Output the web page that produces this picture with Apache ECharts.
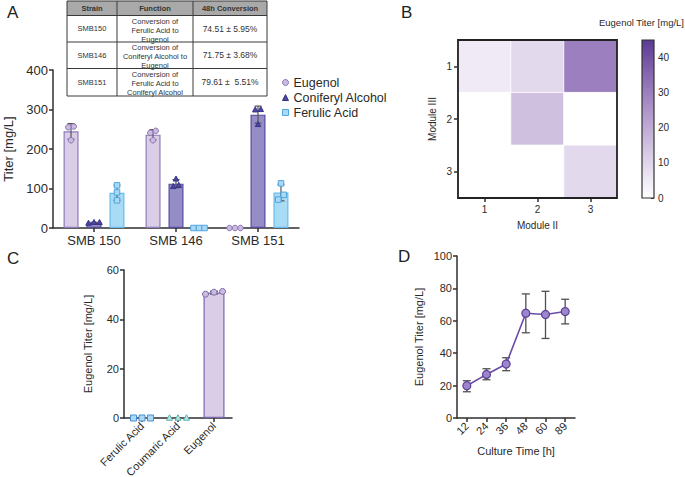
<!DOCTYPE html>
<html><head><meta charset="utf-8">
<script src="https://cdn.jsdelivr.net/npm/echarts@6/dist/echarts.min.js"></script>
<style>html,body{margin:0;padding:0;background:#fff}#c{width:685px;height:477px}</style>
</head><body><div id="c"></div>
<script>
// ---------- DATA ----------
// Panel A
const strainsA = ['SMB 150', 'SMB 146', 'SMB 151'];
const eugenolA = [[257, 255, 222], [246, 241, 222], [0, 0, 0]];
const coniferylA = [[12, 14, 14], [105, 108, 124], [300, 299, 262]];
const ferulicA = [[108, 90, 70], [0, 0, 0], [113, 84, 72]];
const legendA = ['Eugenol', 'Coniferyl Alcohol', 'Ferulic Acid'];
// Table in panel A
const tableHeader = ['Strain', 'Function', '48h Conversion'];
const tableStrains = ['SMB150', 'SMB146', 'SMB151'];
const tableFunctions = [
  ['Conversion of', 'Ferulic Acid to', 'Eugenol'],
  ['Conversion of', 'Coniferyl Alcohol to', 'Eugenol'],
  ['Conversion of', 'Ferulic Acid to', 'Coniferyl Alcohol']
];
const tableConversion = ['74.51 ± 5.95%', '71.75 ± 3.68%', '79.61 ±  5.51%'];
// Panel B (heatmap): [Module II index, Module III index, titer]
const moduleII = ['1', '2', '3'];
const moduleIII = ['1', '2', '3'];
const heatValues = [
  [0, 0, 5], [1, 0, 9], [2, 0, 30],
  [0, 1, 0], [1, 1, 15], [2, 1, 0],
  [0, 2, 0], [1, 2, 0], [2, 2, 9]
];
const heatMax = 45;
const heatTicks = [0, 10, 20, 30, 40];
// Panel C
const compoundsC = ['Ferulic Acid', 'Coumaric Acid', 'Eugenol'];
const replicatesC = [[0, 0, 0], [0, 0, 0], [50.2, 51.3, 51.0]];
// Panel D
const timesD = ['12', '24', '36', '48', '60', '89'];
const meanD = [19.9, 26.9, 33.3, 64.7, 63.9, 65.7];
const lowD = [16.2, 23.6, 29.2, 52.6, 49.1, 58.1];
const highD = [23.0, 30.4, 37.2, 76.6, 78.2, 73.3];

// ---------- HELPERS ----------
const FONT = '"Liberation Sans", Arial, Helvetica, sans-serif';
const TXT = '#2a2a2a';
const AX = '#2f2f2f';
const mean = a => a.reduce((s, v) => s + v, 0) / a.length;
const sd = a => { const m = mean(a); return Math.sqrt(a.reduce((s, v) => s + (v - m) * (v - m), 0) / (a.length - 1)); };

function symbolShape(shape, x, y, size, fill, stroke) {
  const r = size / 2;
  const style = { fill: fill, stroke: stroke, lineWidth: 1 };
  if (shape === 'circle') return { type: 'circle', shape: { cx: x, cy: y, r: r }, style };
  if (shape === 'triangle') return { type: 'polygon', shape: { points: [[x, y - r * 1.1], [x + r, y + r * 0.75], [x - r, y + r * 0.75]] }, style };
  return { type: 'rect', shape: { x: x - r, y: y - r, width: size, height: size }, style };
}

// swarm offsets for replicate points of one category
function swarmOffsets(pixYs, spacing, thr) {
  const idx = pixYs.map((v, i) => i).sort((a, b) => pixYs[b] - pixYs[a]);
  const clusters = [];
  let cur = [idx[0]];
  for (let k = 1; k < idx.length; k++) {
    if (Math.abs(pixYs[idx[k]] - pixYs[idx[k - 1]]) < thr) cur.push(idx[k]);
    else { clusters.push(cur); cur = [idx[k]]; }
  }
  clusters.push(cur);
  const off = [];
  clusters.forEach(c => c.forEach((i, k) => { off[i] = (k - (c.length - 1) / 2) * spacing; }));
  return off;
}

function pointsSeries(reps, gi, offset, styleFn, size, spacing, thr) {
  const data = [];
  reps.forEach((arr, ci) => arr.forEach((v, ri) => data.push([ci, v, ri])));
  return {
    type: 'custom', xAxisIndex: gi, yAxisIndex: gi, z: 6, silent: true,
    data: data, encode: { x: 0, y: 1 },
    renderItem: function (params, api) {
      const ci = api.value(0), ri = api.value(2);
      const ys = reps[ci].map(v => api.coord([ci, v])[1]);
      const offs = swarmOffsets(ys, spacing, thr);
      const p = api.coord([ci, api.value(1)]);
      const st = styleFn(ci);
      return symbolShape(st.shape, p[0] + offset + offs[ri], p[1], size, st.fill, st.stroke);
    }
  };
}

function errorSeries(lo, hi, gi, offset, color, cap, width) {
  return {
    type: 'custom', xAxisIndex: gi, yAxisIndex: gi, z: 4, silent: true,
    data: lo.map((v, i) => [i, v, hi[i]]), encode: { x: 0, y: [1, 2] },
    renderItem: function (params, api) {
      const i = api.value(0);
      if (api.value(2) - api.value(1) <= 0) return null;
      const a = api.coord([i, api.value(1)]), b = api.coord([i, api.value(2)]);
      const x = a[0] + offset;
      const ls = { stroke: color, lineWidth: width };
      return { type: 'group', children: [
        { type: 'line', shape: { x1: x, y1: a[1], x2: x, y2: b[1] }, style: ls },
        { type: 'line', shape: { x1: x - cap / 2, y1: a[1], x2: x + cap / 2, y2: a[1] }, style: ls },
        { type: 'line', shape: { x1: x - cap / 2, y1: b[1], x2: x + cap / 2, y2: b[1] }, style: ls }
      ] };
    }
  };
}

function valueAxis(gi, min, max, interval, name, gap, fs) {
  return {
    type: 'value', gridIndex: gi, min: min, max: max, interval: interval,
    name: name, nameLocation: 'middle', nameGap: gap,
    nameTextStyle: { color: TXT, fontSize: fs, fontFamily: FONT },
    axisLine: { show: true, lineStyle: { color: AX, width: 1.5 } },
    axisTick: { show: true, length: 4, lineStyle: { color: AX, width: 1.5 } },
    axisLabel: { color: TXT, fontSize: fs, fontFamily: FONT, margin: 5 },
    splitLine: { show: false }
  };
}
function catAxis(gi, data, fs, rotate, extra) {
  return Object.assign({
    type: 'category', gridIndex: gi, data: data,
    axisLine: { show: true, lineStyle: { color: AX, width: 1.5 } },
    axisTick: { show: true, alignWithLabel: true, length: 4, lineStyle: { color: AX, width: 1.5 } },
    axisLabel: { color: TXT, fontSize: fs, fontFamily: FONT, rotate: rotate, margin: 6, interval: 0 },
    splitLine: { show: false }
  }, extra || {});
}

// ---------- COLORS ----------
const cEug = { fill: '#d9cde7', stroke: '#8f7bb8', pt: '#cbbbe0', ptS: '#8c74b6' };
const cCon = { fill: '#958ec6', stroke: '#544a9e', pt: '#4d45a0', ptS: '#3a3488' };
const cFer = { fill: '#a8dcf5', stroke: '#66bdea', pt: '#a9d9f6', ptS: '#4fa6df' };
const cCou = { pt: '#bfe6e2', ptS: '#5ab6ae' };
const heatColors = ['#ffffff', '#d0c0e0', '#9c7fbe', '#5d3a95'];

// ---------- SERIES ----------
const series = [];
const barA = (name, reps, c) => ({
  type: 'bar', name: name, xAxisIndex: 0, yAxisIndex: 0, barWidth: 15, barGap: '53%', z: 2,
  data: reps.map(mean), itemStyle: { color: c.fill, borderColor: c.stroke, borderWidth: 1.2 }, silent: true
});
series.push(barA(legendA[0], eugenolA, cEug));
series.push(barA(legendA[1], coniferylA, cCon));
series.push(barA(legendA[2], ferulicA, cFer));
[[eugenolA, -23], [coniferylA, 0], [ferulicA, 23]].forEach(([reps, off]) => {
  series.push(errorSeries(reps.map(a => mean(a) - sd(a)), reps.map(a => mean(a) + sd(a)), 0, off, '#555', 7, 1.2));
});
series.push(pointsSeries(eugenolA, 0, -23, () => ({ shape: 'circle', fill: cEug.pt, stroke: cEug.ptS }), 5.5, 5.5, 5));
series.push(pointsSeries(coniferylA, 0, 0, () => ({ shape: 'triangle', fill: cCon.pt, stroke: cCon.ptS }), 5.5, 5.5, 5));
series.push(pointsSeries(ferulicA, 0, 23, () => ({ shape: 'rect', fill: cFer.pt, stroke: cFer.ptS }), 5.5, 5.5, 5));

// Heatmap
const heatIndex = series.length;
series.push({
  type: 'heatmap', xAxisIndex: 1, yAxisIndex: 1, data: heatValues, silent: true,
  itemStyle: { borderColor: '#ffffff', borderWidth: 0.8 }
});
// Colorbar
series.push({
  type: 'bar', xAxisIndex: 2, yAxisIndex: 2, data: [heatMax], barWidth: '100%', silent: true,
  itemStyle: { color: new echarts.graphic.LinearGradient(0, 1, 0, 0, heatColors.map((c, i) => ({ offset: i / (heatColors.length - 1), color: c }))) }
});

// Panel C
series.push({
  type: 'bar', xAxisIndex: 3, yAxisIndex: 3, barWidth: 21, silent: true,
  data: replicatesC.map(a => { const m = mean(a); return m > 0 ? m : { value: 0, itemStyle: { opacity: 0 } }; }),
  itemStyle: { color: cEug.fill, borderColor: '#7d66ad', borderWidth: 1.2 }
});
series.push(errorSeries(replicatesC.map(a => mean(a) - sd(a)), replicatesC.map(a => mean(a) + sd(a)), 3, 0, '#555', 8, 1.2));
const cStyles = [
  { shape: 'rect', fill: cFer.pt, stroke: '#4f8fd0' },
  { shape: 'triangle', fill: cCou.pt, stroke: cCou.ptS },
  { shape: 'circle', fill: cEug.pt, stroke: '#7d66ad' }
];
series.push(pointsSeries(replicatesC, 3, 0, ci => cStyles[ci], 6, 8.5, 5));

// Panel D
series.push(errorSeries(lowD, highD, 4, 0, '#505050', 8, 1.3));
series.push({
  type: 'line', xAxisIndex: 4, yAxisIndex: 4, data: meanD, z: 5, silent: true,
  symbol: 'circle', symbolSize: 8,
  lineStyle: { color: '#6a4ca8', width: 1.6 },
  itemStyle: { color: '#9b86cb', borderColor: '#5b3e98', borderWidth: 1.2 }
});

// ---------- GRAPHICS (panel letters, table, colorbar title) ----------
const graphics = [];
const letter = (t, x, y) => graphics.push({ type: 'text', x: x, y: y, style: { text: t, font: '17px ' + FONT, fill: '#222' } });
letter('A', 7, 4); letter('B', 401, 4); letter('C', 7, 250); letter('D', 398, 248);
graphics.push({ type: 'text', x: 684, y: 22, style: { text: 'Eugenol Titer [mg/L]', font: '9.5px ' + FONT, fill: TXT, align: 'right', verticalAlign: 'middle' } });

// table
const tx = [67, 117, 193, 267];
const ty = [1, 15.5, 42, 68.5, 96];
graphics.push({ type: 'rect', shape: { x: tx[0], y: ty[0], width: tx[3] - tx[0], height: ty[1] - ty[0] }, style: { fill: '#a9a9a9' } });
for (let r = 0; r < tableStrains.length; r++) {
  const y0 = ty[r + 1], y1 = ty[r + 2], ym = (y0 + y1) / 2;
  graphics.push({ type: 'text', x: (tx[0] + tx[1]) / 2, y: ym, style: { text: tableStrains[r], font: '7.5px ' + FONT, fill: '#333', align: 'center', verticalAlign: 'middle' } });
  tableFunctions[r].forEach((line, k) => {
    graphics.push({ type: 'text', x: (tx[1] + tx[2]) / 2, y: y0 + 5.5 + k * 9, style: { text: line, font: '7.5px ' + FONT, fill: '#333', align: 'center', verticalAlign: 'middle' } });
  });
  graphics.push({ type: 'text', x: (tx[2] + tx[3]) / 2, y: ym, style: { text: tableConversion[r], font: '8.5px ' + FONT, fill: '#333', align: 'center', verticalAlign: 'middle' } });
}
tableHeader.forEach((h, k) => {
  graphics.push({ type: 'text', x: (tx[k] + tx[k + 1]) / 2, y: (ty[0] + ty[1]) / 2, style: { text: h, font: 'bold 7.5px ' + FONT, fill: '#333', align: 'center', verticalAlign: 'middle' } });
});
ty.forEach(y => graphics.push({ type: 'line', shape: { x1: tx[0], y1: y, x2: tx[3], y2: y }, style: { stroke: '#3a3a3a', lineWidth: 1 } }));
tx.forEach(x => graphics.push({ type: 'line', shape: { x1: x, y1: ty[0], x2: x, y2: ty[4] }, style: { stroke: '#3a3a3a', lineWidth: 1 } }));

// ---------- OPTION ----------
const option = {
  animation: false,
  backgroundColor: '#ffffff',
  textStyle: { fontFamily: FONT },
  grid: [
    { left: 53, top: 70, width: 246, height: 158, outerBoundsMode: 'none' },
    { left: 458, top: 40, width: 159, height: 158, show: true, borderColor: '#222', borderWidth: 1.8, outerBoundsMode: 'none', z: 5 },
    { left: 642, top: 40, width: 12, height: 158, show: true, borderColor: '#333', borderWidth: 1.2, outerBoundsMode: 'none', z: 3 },
    { left: 124, top: 270, width: 108, height: 148, outerBoundsMode: 'none' },
    { left: 457, top: 256, width: 118, height: 162, outerBoundsMode: 'none' }
  ],
  xAxis: [
    catAxis(0, strainsA, 13, 0),
    catAxis(1, moduleII, 10, 0, { name: 'Module II', nameLocation: 'middle', nameGap: 22, nameTextStyle: { color: TXT, fontSize: 10, fontFamily: FONT } }),
    { type: 'category', gridIndex: 2, data: ['scale'], show: false },
    catAxis(3, compoundsC, 11, 45),
    catAxis(4, timesD, 11, 45, { name: 'Culture Time [h]', nameLocation: 'middle', nameGap: 27, nameTextStyle: { color: TXT, fontSize: 11, fontFamily: FONT } })
  ],
  yAxis: [
    valueAxis(0, 0, 400, 100, 'Titer [mg/L]', 38, 13),
    catAxis(1, moduleIII, 10, 0, { inverse: true, name: 'Module III', nameLocation: 'middle', nameGap: 21, nameTextStyle: { color: TXT, fontSize: 10, fontFamily: FONT } }),
    { type: 'value', gridIndex: 2, min: 0, max: heatMax, interval: 10, position: 'right',
      axisLine: { show: false }, splitLine: { show: false },
      axisTick: { show: true, inside: true, length: 3, lineStyle: { color: '#333' } },
      axisLabel: { color: TXT, fontSize: 10, fontFamily: FONT, margin: 4, showMaxLabel: false,
        formatter: v => heatTicks.indexOf(v) >= 0 ? String(v) : '' } },
    valueAxis(3, 0, 60, 20, 'Eugenol Titer [mg/L]', 31, 11),
    valueAxis(4, 0, 100, 20, 'Eugenol Titer [mg/L]', 33, 11)
  ],
  visualMap: [{ show: false, seriesIndex: heatIndex, min: 0, max: heatMax, dimension: 2, inRange: { color: heatColors } }],
  legend: {
    left: 277, top: 71, orient: 'vertical', itemWidth: 6, itemHeight: 6, itemGap: 2, selectedMode: false,
    textStyle: { color: TXT, fontSize: 12.5, fontFamily: FONT, lineHeight: 13 },
    data: [
      { name: legendA[0], icon: 'circle', itemStyle: { color: cEug.pt, borderColor: cEug.ptS, borderWidth: 1 } },
      { name: legendA[1], icon: 'triangle', itemStyle: { color: cCon.pt, borderColor: cCon.ptS, borderWidth: 1 } },
      { name: legendA[2], icon: 'rect', itemStyle: { color: cFer.pt, borderColor: cFer.ptS, borderWidth: 1 } }
    ]
  },
  graphic: graphics,
  series: series
};
const chart = echarts.init(document.getElementById('c'), null, { renderer: 'svg' });
chart.setOption(option);
</script></body></html>
